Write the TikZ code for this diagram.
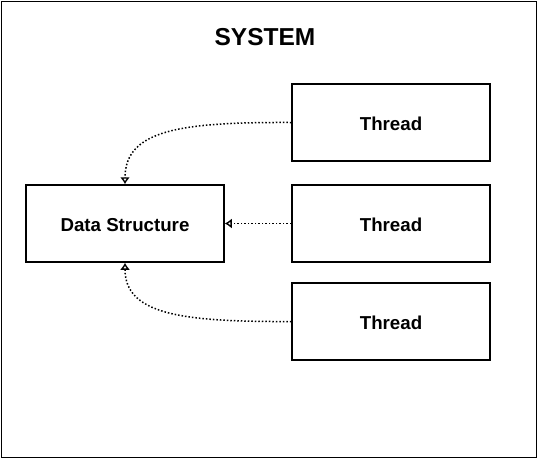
\documentclass[tikz,border=0pt]{standalone}
\usepackage{fontspec}
\setmainfont{Liberation Sans}
\usetikzlibrary{arrows.meta}
\begin{document}
\begin{tikzpicture}[x=1pt,y=-1pt,
  box/.style={draw=black,line width=1.5pt,minimum width=198pt,minimum height=77pt,inner sep=0pt,text height=16pt,text depth=0pt,font=\fontsize{18.7}{20}\selectfont\bfseries},
  conn/.style={line width=1.5pt,dash pattern=on 1.5pt off 2pt,-{Latex[open,length=7pt,width=10pt]}}]
\useasboundingbox (0,0) rectangle (538,459);
\node[draw=black,line width=1.5pt,minimum width=535pt,minimum height=456pt,inner sep=0pt] (frame) at (269,229.5) {};
\node[font=\fontsize{24.5}{26}\selectfont\bfseries] (title) at (265,37) {SYSTEM};
\node[box] (ds) at (125,223.5) {Data Structure};
\node[box] (t1) at (391,122.5) {Thread};
\node[box] (t2) at (391,223.5) {Thread};
\node[box] (t3) at (391,321.5) {Thread};
\draw[conn] (t1.west) .. controls (180,122) and (125,130) .. (ds.north);
\draw[conn] (t2.west) -- (ds.east);
\draw[conn] (t3.west) .. controls (180,322) and (125,314) .. (ds.south);
\end{tikzpicture}
\end{document}
